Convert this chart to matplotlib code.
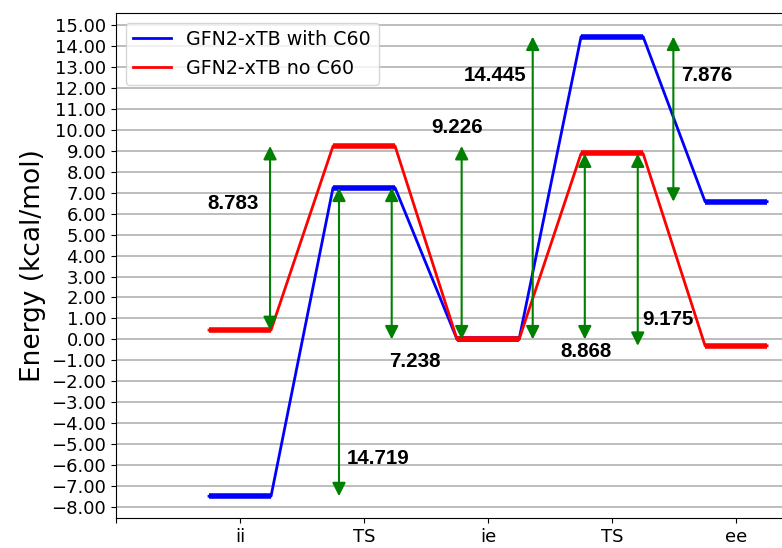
import matplotlib
import matplotlib.pyplot as plt
from matplotlib.ticker import FuncFormatter
matplotlib.use('Agg')

# data
states = ['ii', 'TS', 'ie', 'TS', 'ee']
withC60 = [-7.481, 7.238, 0.0, 14.445, 6.569]
noC60 = [0.443, 9.226, 0.0, 8.868, -0.307]

# barrier annotations: (value label, from energy, to energy)
barrierLabels = ['8.783', '14.719', '7.238', '9.226', '14.445', '8.868', '9.175', '7.876']
barrierFrom = [noC60[0], withC60[0], withC60[2], noC60[2], withC60[2], noC60[2], noC60[4], withC60[4]]
barrierTo = [noC60[1], withC60[1], withC60[1], noC60[1], withC60[3], noC60[3], noC60[3], withC60[3]]

# layout of the arrows and their texts
arrowX = [1.242, 1.798, 2.223, 2.787, 3.36, 3.78, 4.207, 4.494]
textX = [1.153, 1.86, 2.20, 2.545, 3.31, 3.58, 4.24, 4.556]
textY = [6.5, -5.66, -1.06, 10.1, 12.57, -0.59, 0.93, 12.57]
textHa = ['right', 'left', 'left', 'left', 'right', 'left', 'left', 'left']


def levelPath(values):
    xs, ys = [], []
    for i in range(len(values)):
        xs += [i + 1 - 0.25, i + 1 + 0.25]
        ys += [values[i], values[i]]
    return xs, ys


def fmtEnergy(v, pos):
    return f'{v:.2f}'.replace('-', '\u2212')


figure = plt.figure(figsize=(7.82, 5.48), dpi=100)
axes = figure.add_axes([116 / 782, 30 / 548, 1 - 116 / 782, 505 / 548])

for values, color, label in [(withC60, 'blue', 'GFN2-xTB with C60'),
                             (noC60, 'red', 'GFN2-xTB no C60')]:
    xs, ys = levelPath(values)
    axes.plot(xs, ys, color=color, linewidth=2, label=label, zorder=3)
    for i in range(len(values)):
        axes.plot([i + 0.75, i + 1.25], [values[i], values[i]], color=color,
                  linewidth=4, solid_capstyle='butt', zorder=3)

for i in range(len(barrierLabels)):
    axes.annotate('', xy=(arrowX[i], barrierTo[i]), xytext=(arrowX[i], barrierFrom[i]),
                  arrowprops=dict(arrowstyle='<|-|>', color='green', lw=1.5,
                                  mutation_scale=20, shrinkA=0, shrinkB=0),
                  zorder=4)
    axes.text(textX[i], textY[i], barrierLabels[i], ha=textHa[i], va='center',
              fontsize=14.8, fontweight='bold', family=['Liberation Sans', 'DejaVu Sans'],
              zorder=5)

axes.set_xlim(0, 5.37)
axes.set_ylim(-8.52, 15.57)
axes.set_xticks(range(len(states) + 1))
axes.set_xticklabels([''] + states)
axes.set_yticks(range(-8, 16))
axes.yaxis.set_major_formatter(FuncFormatter(fmtEnergy))
axes.tick_params(labelsize=13)
axes.set_ylabel('Energy (kcal/mol)', fontsize=19)
axes.yaxis.grid(True, color='#b8b8b8', linewidth=1.3)
axes.set_axisbelow(True)
axes.spines['right'].set_visible(False)
axes.legend(loc='upper left', fontsize=13.7)

figure.savefig('out.png')
plt.close('all')
